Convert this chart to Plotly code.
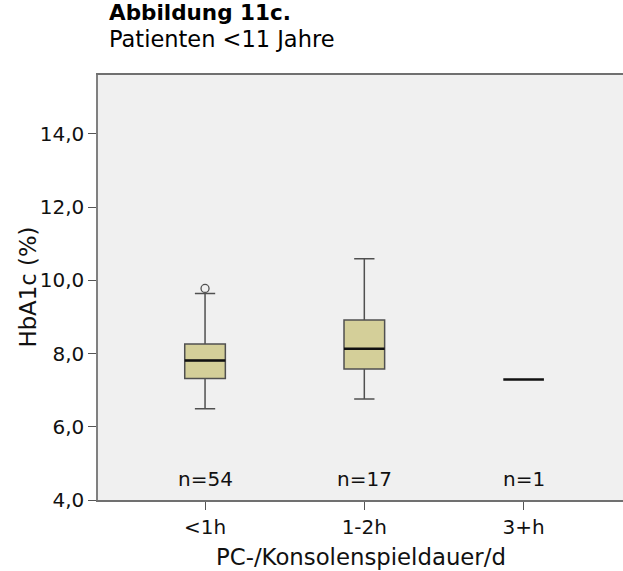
import plotly.graph_objects as go

categories = ["<1h", "1-2h", "3+h"]
positions = [0, 1, 2]
q1 = [7.32, 7.58]
medians = [7.81, 8.13, 7.29]
q3 = [8.26, 8.92]
lower = [6.49, 6.76]
upper = [9.64, 10.59]
outliers_x = [0]
outliers_y = [9.78]
n_labels = ["n=54", "n=17", "n=1"]
n_label_y = 4.57
y_ticks = [4, 6, 8, 10, 12, 14]
y_ticktext = ["4,0", "6,0", "8,0", "10,0", "12,0", "14,0"]

FONT = "DejaVu Sans, Liberation Sans, Arial, sans-serif"
BOXW = 0.255

fig = go.Figure()
fig.add_trace(go.Box(
    x=positions[:2], q1=q1, median=medians[:2], q3=q3,
    lowerfence=lower, upperfence=upper,
    width=BOXW, whiskerwidth=0.5,
    fillcolor="#d4cf99", line=dict(color="#505050", width=1.5),
    boxpoints=False, showlegend=False, hoverinfo="skip",
))
fig.add_trace(go.Scatter(
    x=outliers_x, y=outliers_y, mode="markers",
    marker=dict(symbol="circle-open", size=8, color="#505050", line=dict(width=1.3)),
    showlegend=False, hoverinfo="skip",
))
for p, m in zip(positions, medians):
    fig.add_shape(type="line", xref="x", yref="y",
                  x0=p - BOXW / 2, x1=p + BOXW / 2, y0=m, y1=m,
                  line=dict(color="#111111", width=2.5))
for p, t in zip(positions, n_labels):
    fig.add_annotation(x=p, y=n_label_y, xref="x", yref="y", text=t,
                       showarrow=False, font=dict(family=FONT, size=20, color="#111"))

fig.add_annotation(xref="paper", yref="paper", x=0.0, y=1.0, xshift=10, yshift=63,
                   xanchor="left", yanchor="middle", borderpad=0,
                   text="<b>Abbildung 11c.</b>", showarrow=False,
                   font=dict(family=FONT, size=21.5, color="#000"))
fig.add_annotation(xref="paper", yref="paper", x=0.0, y=1.0, xshift=10, yshift=36,
                   xanchor="left", yanchor="middle", borderpad=0,
                   text="Patienten <11 Jahre", showarrow=False,
                   font=dict(family=FONT, size=22.5, color="#000"))
fig.add_annotation(xref="paper", yref="paper", x=0.5, y=0.0, yshift=-57,
                   xanchor="center", yanchor="middle",
                   text="PC-/Konsolenspieldauer/d", showarrow=False,
                   font=dict(family=FONT, size=22.8, color="#111"))
fig.add_annotation(xref="paper", yref="paper", x=0.0, y=0.5, xshift=-71,
                   xanchor="center", yanchor="middle", textangle=-90,
                   text="HbA1c (%)", showarrow=False,
                   font=dict(family=FONT, size=22.8, color="#111"))

fig.update_layout(
    width=623, height=571,
    margin=dict(l=98, r=0, t=75, b=71),
    paper_bgcolor="white", plot_bgcolor="#f0f0f0",
    font=dict(family=FONT, size=20, color="#111"),
    xaxis=dict(range=[-0.672, 2.624], tickvals=positions, ticktext=categories,
               showgrid=False, zeroline=False, showline=True, linecolor="#707070",
               linewidth=1.5, mirror=True, ticks="outside", ticklen=8,
               tickcolor="#555", tickfont=dict(size=20)),
    yaxis=dict(range=[4, 15.61], tickvals=y_ticks, ticktext=y_ticktext,
               showgrid=False, zeroline=False, showline=True, linecolor="#808080",
               linewidth=1.5, ticks="outside", ticklen=8, tickcolor="#555",
               tickfont=dict(size=20)),
)
fig.write_html("out.html")
